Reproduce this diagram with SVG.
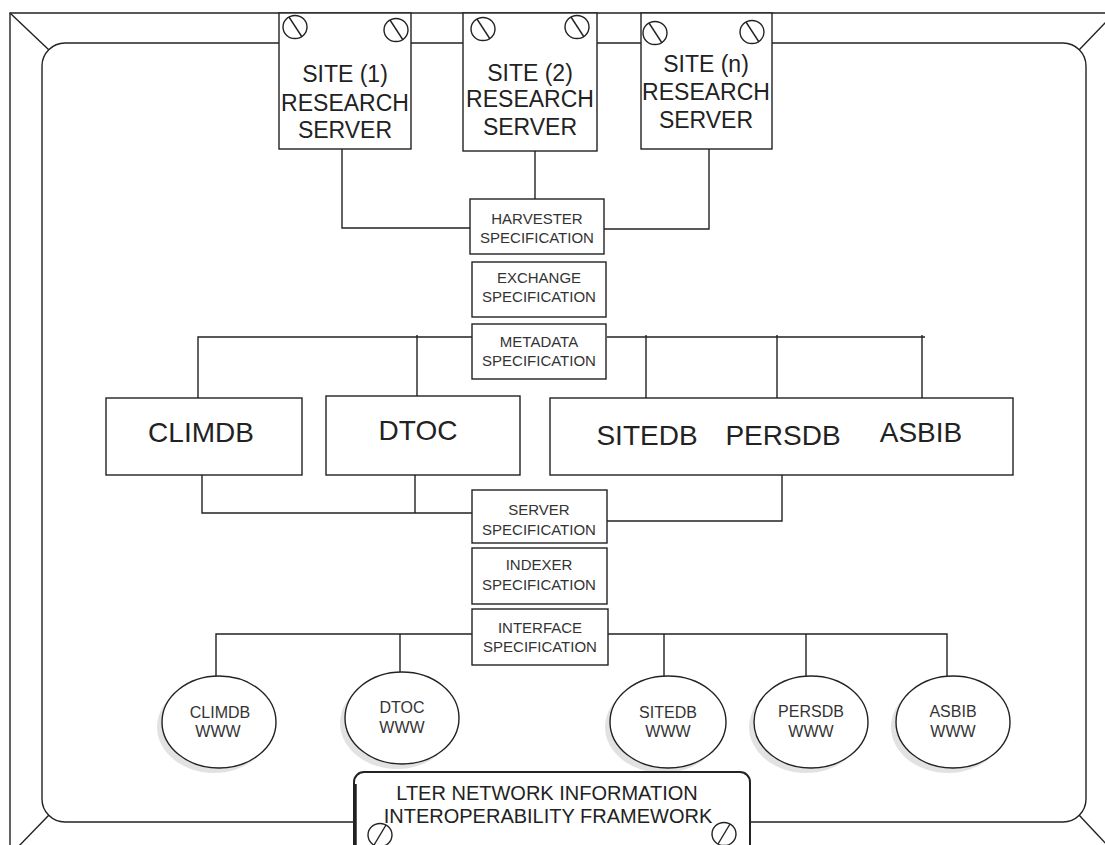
<svg xmlns="http://www.w3.org/2000/svg" width="1105" height="845" viewBox="0 0 1105 845">
<style>
.ln{stroke:#222;stroke-width:1.4;fill:none}
.bx{stroke:#222;stroke-width:1.4;fill:#fff}
.t{font-family:"Liberation Sans",Arial,sans-serif;fill:#222;text-anchor:middle}
.site{font-size:23px}
.spec{font-size:15px;fill:#333}
.db{font-size:28px}
.www{font-size:16px;fill:#333}
.lter{font-size:20px}
.sh{fill:#e2e2e2;stroke:none}
</style>
<defs>
<g id="screwB"><ellipse cx="0" cy="0" rx="12" ry="11.5" class="ln"/><line x1="-6" y1="-10" x2="7" y2="10" class="ln"/></g>
<g id="screwF"><ellipse cx="0" cy="0" rx="12" ry="11.5" class="ln"/><line x1="-6" y1="10" x2="6" y2="-10" class="ln"/></g>
</defs>
<rect width="1105" height="845" fill="#fff"/>
<g id="frame">
<path class="ln" d="M10,845 L10,13 L1105,13"/>
<rect class="ln" x="42" y="43" width="1044" height="779" rx="23"/>
<line class="ln" x1="10" y1="13" x2="49" y2="50"/>
<line class="ln" x1="1079" y1="50" x2="1108" y2="20"/>
<line class="ln" x1="49" y1="815" x2="17" y2="848"/>
<line class="ln" x1="1079" y1="815" x2="1110" y2="848"/>
</g>
<g id="connectors">
<path class="ln" d="M342,149 V228 H470"/>
<path class="ln" d="M535,151 V199"/>
<path class="ln" d="M709,149 V229 H604"/>
<path class="ln" d="M472,337 H198 V398 M417,335 V396"/>
<path class="ln" d="M607,337 H925 M646,335 V398 M777,335 V398 M922,335 V398"/>
<path class="ln" d="M202,475 V513 H472 M415,473 V513"/>
<path class="ln" d="M782,473 V521 H607"/>
<path class="ln" d="M472,634 H216 V676 M400,634 V672"/>
<path class="ln" d="M608,634 H947 V676 M664,634 V677 M806,634 V676"/>
</g>
<g id="site1">
<rect class="bx" x="279" y="13" width="132" height="136"/>
<use href="#screwB" x="295" y="27"/><use href="#screwB" x="396" y="30"/>
<text class="t site" x="345" y="82">SITE (1)</text>
<text class="t site" x="345" y="111">RESEARCH</text>
<text class="t site" x="345" y="138">SERVER</text>
</g>
<g id="site2">
<rect class="bx" x="463" y="13" width="134" height="138"/>
<use href="#screwB" x="483" y="29"/><use href="#screwB" x="577" y="27"/>
<text class="t site" x="530" y="81">SITE (2)</text>
<text class="t site" x="530" y="107">RESEARCH</text>
<text class="t site" x="530" y="135">SERVER</text>
</g>
<g id="siten">
<rect class="bx" x="641" y="13" width="131" height="136"/>
<use href="#screwB" x="655" y="33"/><use href="#screwB" x="752" y="32"/>
<text class="t site" x="706" y="72">SITE (n)</text>
<text class="t site" x="706" y="100">RESEARCH</text>
<text class="t site" x="706" y="128">SERVER</text>
</g>
<g id="harvester">
<rect class="bx" x="470" y="199" width="134" height="55"/>
<text class="t spec" x="537" y="224">HARVESTER</text>
<text class="t spec" x="537" y="243">SPECIFICATION</text>
</g>
<g id="exchange">
<rect class="bx" x="472" y="262" width="134" height="55"/>
<text class="t spec" x="539" y="283">EXCHANGE</text>
<text class="t spec" x="539" y="302">SPECIFICATION</text>
</g>
<g id="metadata">
<rect class="bx" x="472" y="324" width="134" height="55"/>
<text class="t spec" x="539" y="347">METADATA</text>
<text class="t spec" x="539" y="366">SPECIFICATION</text>
</g>
<g id="climdb">
<rect class="bx" x="106" y="398" width="196" height="77"/>
<text class="t db" x="201" y="442">CLIMDB</text>
</g>
<g id="dtoc">
<rect class="bx" x="326" y="396" width="194" height="79"/>
<text class="t db" x="418" y="440">DTOC</text>
</g>
<g id="sitegroup">
<rect class="bx" x="550" y="398" width="463" height="77"/>
<text class="t db" x="647" y="445">SITEDB</text>
<text class="t db" x="783" y="445">PERSDB</text>
<text class="t db" x="921" y="442">ASBIB</text>
</g>
<g id="server">
<rect class="bx" x="472" y="490" width="135" height="53"/>
<text class="t spec" x="539" y="515">SERVER</text>
<text class="t spec" x="539" y="535">SPECIFICATION</text>
</g>
<g id="indexer">
<rect class="bx" x="472" y="548" width="135" height="56"/>
<text class="t spec" x="539" y="570">INDEXER</text>
<text class="t spec" x="539" y="590">SPECIFICATION</text>
</g>
<g id="interface">
<rect class="bx" x="472" y="609" width="136" height="56"/>
<text class="t spec" x="540" y="633">INTERFACE</text>
<text class="t spec" x="540" y="652">SPECIFICATION</text>
</g>
<g id="climdbwww">
<ellipse class="sh" cx="214" cy="727" rx="57" ry="46"/>
<ellipse class="bx" cx="219" cy="722" rx="57" ry="46"/>
<text class="t www" x="220" y="718">CLIMDB</text>
<text class="t www" x="218" y="737">WWW</text>
</g>
<g id="dtocwww">
<ellipse class="sh" cx="397" cy="723" rx="57" ry="46"/>
<ellipse class="bx" cx="402" cy="718" rx="57" ry="46"/>
<text class="t www" x="402" y="713">DTOC</text>
<text class="t www" x="402" y="733">WWW</text>
</g>
<g id="sitedbwww">
<ellipse class="sh" cx="663" cy="727" rx="58" ry="46"/>
<ellipse class="bx" cx="668" cy="722" rx="58" ry="46"/>
<text class="t www" x="668" y="718">SITEDB</text>
<text class="t www" x="668" y="737">WWW</text>
</g>
<g id="persdbwww">
<ellipse class="sh" cx="806" cy="727" rx="57" ry="46"/>
<ellipse class="bx" cx="811" cy="722" rx="57" ry="46"/>
<text class="t www" x="811" y="717">PERSDB</text>
<text class="t www" x="811" y="737">WWW</text>
</g>
<g id="asbibwww">
<ellipse class="sh" cx="948" cy="727" rx="57" ry="46"/>
<ellipse class="bx" cx="953" cy="722" rx="57" ry="46"/>
<text class="t www" x="953" y="717">ASBIB</text>
<text class="t www" x="953" y="737">WWW</text>
</g>
<g id="lter">
<rect x="354" y="772" width="396" height="100" rx="10" fill="#fff" stroke="#222" stroke-width="2"/>
<line x1="355" y1="784" x2="355" y2="845" stroke="#222" stroke-width="3.5"/>
<text class="t lter" x="547" y="800">LTER NETWORK INFORMATION</text>
<text class="t lter" x="548" y="823">INTEROPERABILITY FRAMEWORK</text>
<use href="#screwF" x="380" y="835"/><use href="#screwF" x="724" y="834"/>
</g>
</svg>
